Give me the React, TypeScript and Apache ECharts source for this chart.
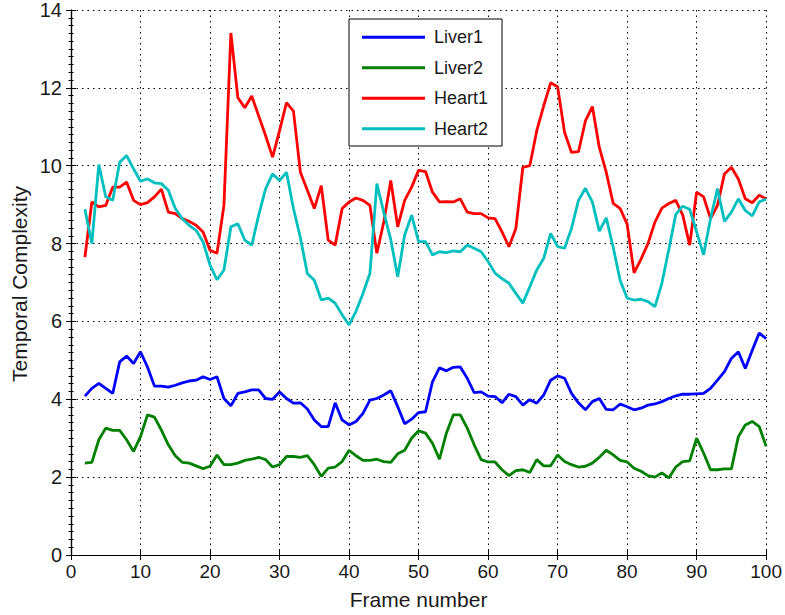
import React, { useEffect, useRef } from "react";
import * as echarts from "echarts";

// Frame numbers start at 2 and advance by one per sample
const firstFrame = 2;

const liver1 = [
  4.08, 4.28, 4.41, 4.28, 4.15, 4.96, 5.11, 4.92, 5.22, 4.83,
  4.34, 4.34, 4.31, 4.36, 4.42, 4.47, 4.49, 4.58, 4.51, 4.58,
  4.02, 3.83, 4.15, 4.19, 4.24, 4.24, 4.02, 4.0, 4.19, 4.02,
  3.9, 3.91, 3.75, 3.47, 3.3, 3.3, 3.91, 3.47, 3.34, 3.43,
  3.64, 3.98, 4.02, 4.11, 4.22, 3.81, 3.37, 3.49, 3.66, 3.68,
  4.45, 4.81, 4.73, 4.82, 4.83, 4.54, 4.17, 4.19, 4.08, 4.07,
  3.91, 4.13, 4.07, 3.85, 3.99, 3.9, 4.11, 4.49, 4.6, 4.54,
  4.15, 3.91, 3.73, 3.94, 4.02, 3.74, 3.73, 3.88, 3.81, 3.73,
  3.77, 3.85, 3.88, 3.94, 4.02, 4.09, 4.13, 4.13, 4.14, 4.15,
  4.28, 4.49, 4.71, 5.05, 5.22, 4.79, 5.26, 5.7, 5.56,
];

const liver2 = [
  2.36, 2.38, 2.96, 3.26, 3.2, 3.2, 2.96, 2.66, 3.04, 3.6,
  3.54, 3.21, 2.83, 2.55, 2.38, 2.36, 2.29, 2.22, 2.28, 2.57,
  2.32, 2.32, 2.36, 2.43, 2.46, 2.51, 2.45, 2.26, 2.32, 2.53,
  2.53, 2.51, 2.55, 2.32, 2.02, 2.23, 2.26, 2.4, 2.69, 2.55,
  2.43, 2.43, 2.46, 2.4, 2.38, 2.6, 2.69, 3.0, 3.19, 3.13,
  2.87, 2.46, 3.13, 3.6, 3.6, 3.26, 2.83, 2.45, 2.39, 2.39,
  2.19, 2.04, 2.17, 2.19, 2.12, 2.45, 2.29, 2.29, 2.57, 2.4,
  2.32, 2.26, 2.28, 2.36, 2.51, 2.69, 2.57, 2.43, 2.39, 2.23,
  2.15, 2.04, 2.0, 2.11, 1.98, 2.26, 2.4, 2.42, 3.0, 2.62,
  2.19, 2.19, 2.21, 2.21, 3.04, 3.34, 3.43, 3.3, 2.79,
];

const heart1 = [
  7.65, 9.07, 8.94, 8.98, 9.45, 9.45, 9.58, 9.11, 9.0, 9.05,
  9.2, 9.4, 8.81, 8.77, 8.64, 8.57, 8.47, 8.3, 7.83, 7.75,
  8.98, 13.41, 11.75, 11.49, 11.79, 11.28, 10.77, 10.22, 10.9, 11.62,
  11.4, 9.83, 9.37, 8.9, 9.49, 8.09, 7.96, 8.9, 9.07, 9.17,
  9.11, 8.98, 7.75, 8.56, 9.62, 8.43, 9.11, 9.45, 9.88, 9.85,
  9.32, 9.07, 9.08, 9.07, 9.15, 8.81, 8.77, 8.77, 8.66, 8.64,
  8.3, 7.92, 8.39, 9.96, 10.0, 10.9, 11.54, 12.13, 12.03, 10.86,
  10.34, 10.36, 11.15, 11.52, 10.47, 9.83, 9.03, 8.9, 8.5, 7.25,
  7.6, 8.0, 8.55, 8.91, 9.03, 9.11, 8.73, 7.96, 9.32, 9.2,
  8.64, 8.98, 9.79, 9.96, 9.66, 9.15, 9.05, 9.24, 9.15,
];

const heart2 = [
  8.88, 8.0, 10.03, 9.2, 9.11, 10.09, 10.26, 9.92, 9.6, 9.66,
  9.56, 9.54, 9.37, 8.9, 8.64, 8.47, 8.34, 8.04, 7.45, 7.07,
  7.32, 8.43, 8.51, 8.09, 7.96, 8.73, 9.41, 9.79, 9.62, 9.83,
  8.9, 8.15, 7.23, 7.06, 6.55, 6.6, 6.47, 6.17, 5.91, 6.26,
  6.72, 7.23, 9.54, 8.8, 8.1, 7.15, 8.22, 8.73, 8.05, 8.05,
  7.71, 7.79, 7.77, 7.81, 7.79, 7.96, 7.88, 7.79, 7.54, 7.24,
  7.1, 6.98, 6.72, 6.47, 6.89, 7.32, 7.62, 8.26, 7.92, 7.88,
  8.39, 9.11, 9.42, 9.07, 8.32, 8.66, 7.9, 7.05, 6.6, 6.55,
  6.57, 6.51, 6.38, 6.98, 7.85, 8.75, 8.96, 8.88, 8.3, 7.71,
  8.64, 9.41, 8.57, 8.81, 9.15, 8.85, 8.71, 9.07, 9.14,
];

const seriesNames = ["Liver1", "Liver2", "Heart1", "Heart2"];
const seriesColors = ["#0000ff", "#008000", "#ff0000", "#00bfbf"];
const seriesValues = [liver1, liver2, heart1, heart2];

const xMin = 0;
const xMax = 100;
const xStep = 10;
const yMin = 0;
const yMax = 14;
const yStep = 2;

const xTitle = "Frame number";
const yTitle = "Temporal Complexity";

const FONT = '"Liberation Sans", Arial, sans-serif';
const TEXT = "#1a1a1a";

export default function App() {
  const ref = useRef<HTMLDivElement>(null);

  useEffect(() => {
    if (!ref.current) return;
    const chart = echarts.init(ref.current, undefined, { renderer: "svg" });

    const gridLine = {
      show: true,
      lineStyle: { color: "#000", width: 1, type: [1.5, 4] as any },
    };

    const option: any = {
      animation: false,
      backgroundColor: "#fff",
      grid: { left: 71, right: 17, top: 10, bottom: 57, containLabel: false },
      legend: {
        orient: "vertical",
        left: 349,
        top: 19,
        icon: "rect",
        itemWidth: 63,
        itemHeight: 3,
        itemGap: 10,
        padding: [8, 14, 7, 13],
        backgroundColor: "#fff",
        borderColor: "#000",
        borderWidth: 1,
        borderRadius: 0,
        textStyle: {
          fontSize: 18,
          color: TEXT,
          fontFamily: FONT,
          padding: [0, 0, 0, 4],
          lineHeight: 20.5,
        },
        data: seriesNames,
      },
      xAxis: [
        {
          type: "value",
          min: xMin,
          max: xMax,
          interval: xStep,
          name: xTitle,
          nameLocation: "middle",
          nameGap: 34,
          nameTextStyle: { fontSize: 21, color: TEXT, fontFamily: FONT },
          axisLine: { show: true, lineStyle: { color: "#000", width: 1.2 } },
          axisTick: { show: true, inside: true, length: 5, lineStyle: { color: "#000" } },
          axisLabel: { fontSize: 19, color: TEXT, fontFamily: FONT, margin: 7 },
          splitLine: gridLine,
        },
        {
          type: "value",
          position: "top",
          min: xMin,
          max: xMax,
          interval: xStep,
          axisLine: { show: true, lineStyle: { color: "#000", width: 1.2 } },
          axisTick: { show: true, inside: true, length: 5, lineStyle: { color: "#000" } },
          axisLabel: { show: false },
          splitLine: { show: false },
        },
      ],
      yAxis: [
        {
          type: "value",
          min: yMin,
          max: yMax,
          interval: yStep,
          axisLine: { show: true, lineStyle: { color: "#000", width: 1.2 } },
          axisTick: { show: true, inside: true, length: 5, lineStyle: { color: "#000" } },
          minorTick: { show: true, splitNumber: 10, length: 2.5, lineStyle: { color: "#000" } },
          axisLabel: { fontSize: 20, color: TEXT, fontFamily: FONT, margin: 9 },
          splitLine: gridLine,
        },
        {
          type: "value",
          position: "right",
          min: yMin,
          max: yMax,
          interval: yStep,
          axisLine: { show: true, lineStyle: { color: "#000", width: 1.2 } },
          axisTick: { show: true, inside: true, length: 5, lineStyle: { color: "#000" } },
          minorTick: { show: true, splitNumber: 10, length: 2.5, lineStyle: { color: "#000" } },
          axisLabel: { show: false },
          splitLine: { show: false },
        },
      ],
      graphic: [
        {
          type: "text",
          x: 19,
          y: 284,
          rotation: Math.PI / 2,
          style: {
            text: yTitle,
            fontSize: 21,
            fontFamily: FONT,
            fill: TEXT,
            align: "center",
            verticalAlign: "middle",
          },
        },
      ],
      series: seriesNames.map((name, k) => ({
        name,
        type: "line",
        xAxisIndex: 0,
        yAxisIndex: 0,
        showSymbol: false,
        symbol: "none",
        color: seriesColors[k],
        lineStyle: { color: seriesColors[k], width: 2.8 },
        data: seriesValues[k].map((v, i) => [firstFrame + i, v]),
      })),
    };

    chart.setOption(option);
    return () => chart.dispose();
  }, []);

  return (
    <div
      ref={ref}
      style={{ position: "absolute", left: 0, top: 0, width: 785, height: 615 }}
    />
  );
}
